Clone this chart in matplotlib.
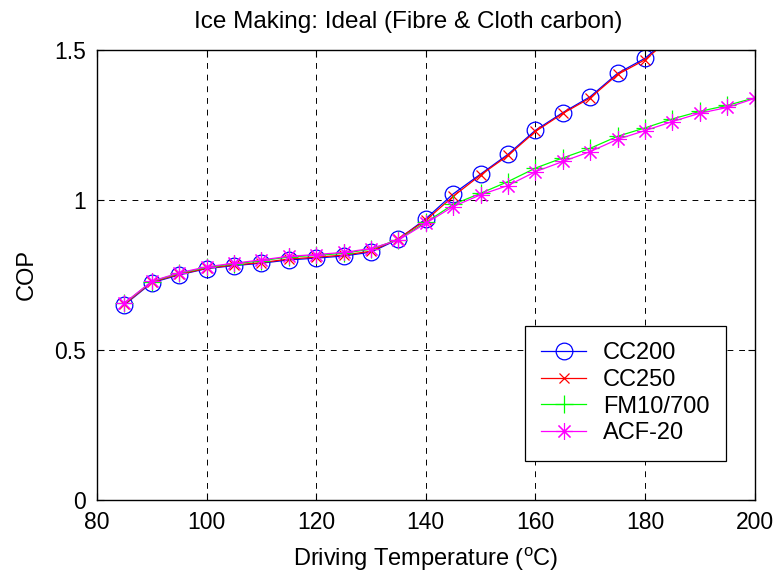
import numpy as np
import matplotlib
matplotlib.use("Agg")
import matplotlib.pyplot as plt

plt.rcParams["font.family"] = ["Liberation Sans", "DejaVu Sans"]
plt.rcParams["mathtext.fontset"] = "custom"
plt.rcParams["mathtext.rm"] = "Liberation Sans"

# driving temperature (C)
temp_cc = [85, 90, 95, 100, 105, 110, 115, 120, 125, 130, 135, 140, 145,
           150, 155, 160, 165, 170, 175, 180, 185]
temp_fm = [85, 90, 95, 100, 105, 110, 115, 120, 125, 130, 135, 140, 145,
           150, 155, 160, 165, 170, 175, 180, 185, 190, 195, 200]

cop_cc200 = [0.650, 0.724, 0.750, 0.771, 0.781, 0.789, 0.800, 0.806, 0.813,
             0.826, 0.869, 0.937, 1.020, 1.086, 1.152, 1.232, 1.291, 1.344,
             1.422, 1.472, 1.550]
cop_cc250 = [0.652, 0.726, 0.752, 0.772, 0.783, 0.791, 0.803, 0.809, 0.816,
             0.829, 0.871, 0.932, 1.012, 1.083, 1.148, 1.228, 1.288, 1.340,
             1.418, 1.467, 1.545]
cop_fm10 = [0.655, 0.728, 0.755, 0.775, 0.787, 0.797, 0.810, 0.815, 0.822,
            0.836, 0.868, 0.925, 0.985, 1.022, 1.061, 1.106, 1.140, 1.172,
            1.212, 1.240, 1.270, 1.295, 1.315, 1.340]
cop_acf20 = [0.656, 0.729, 0.757, 0.777, 0.789, 0.800, 0.812, 0.818, 0.825,
             0.838, 0.866, 0.922, 0.978, 1.017, 1.048, 1.094, 1.128, 1.161,
             1.202, 1.231, 1.261, 1.289, 1.308, 1.338]

fig = plt.figure(figsize=(7.82, 5.8), dpi=100)
ax = fig.add_axes([0.124, 0.138, 0.841, 0.776])

ax.plot(temp_cc, cop_cc200, "b-o", mfc="none", ms=12, lw=0.9, mew=0.9, label="CC200")
ax.plot(temp_cc, cop_cc250, "r-x", ms=7, lw=0.9, mew=0.9, label="CC250")
ax.plot(temp_fm, cop_fm10, "-+", color="#00ff00", ms=13, lw=0.9, mew=0.9, label="FM10/700")
ax.plot(temp_fm, cop_acf20, "-", marker=(8, 2, 0), color="magenta", ms=12, lw=0.9,
        mew=0.8, label="ACF-20")

ax.set_xlim(80, 200)
ax.set_ylim(0, 1.5)
ax.set_xticks([80, 100, 120, 140, 160, 180, 200])
ax.set_yticks([0, 0.5, 1, 1.5])
ax.set_yticklabels(["0", "0.5", "1", "1.5"])
ax.tick_params(direction="in", top=True, right=True, labelsize=16.5, length=5)
ax.tick_params(axis="x", pad=8)
ax.tick_params(axis="y", pad=8)
ax.grid(True, color="black", linestyle=(0, (6, 6)), linewidth=0.7)
for s in ax.spines.values():
    s.set_linewidth(1.0)

ax.set_title("Ice Making: Ideal (Fibre & Cloth carbon)", fontsize=17.5, pad=16, x=0.473)
ax.set_xlabel(r"Driving Temperature ($^\mathrm{o}$C)", fontsize=17, labelpad=8)
ax.set_ylabel("COP", fontsize=17, labelpad=12)

leg = ax.legend(loc="lower right", bbox_to_anchor=(0.956, 0.087), borderaxespad=0,
                fontsize=17, fancybox=False, edgecolor="black", framealpha=1,
                handlelength=1.9, handletextpad=0.7, borderpad=0.7,
                labelspacing=0.2)
leg.get_frame().set_linewidth(0.9)

fig.savefig("out.png", dpi=100)
